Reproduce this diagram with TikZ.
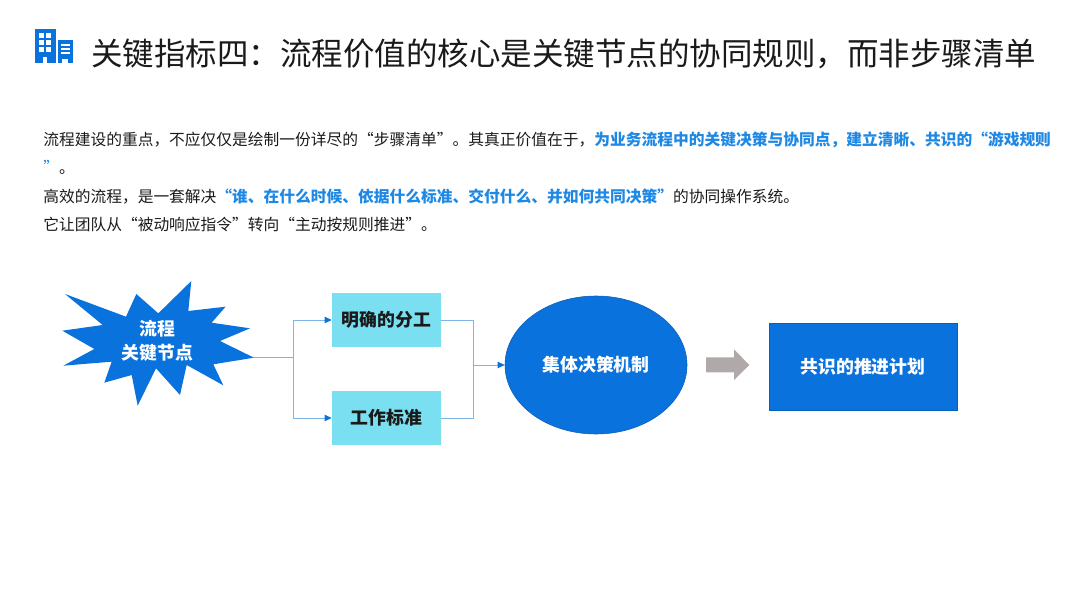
\documentclass[tikz,border=0pt]{standalone}
\usepackage{fontspec}
\setmainfont{Noto Sans CJK SC}
\usetikzlibrary{arrows.meta,positioning,calc,shapes.geometric}
\definecolor{Brand}{HTML}{0A72DC}
\definecolor{BrandEdge}{HTML}{0A5FB8}
\definecolor{Sky}{HTML}{7ADFF0}
\definecolor{Accent}{HTML}{1E88E5}
\definecolor{Wire}{HTML}{7FB5E6}
\definecolor{Ink}{HTML}{1A1A1A}
\definecolor{Stone}{HTML}{AFA9A9}
\tikzset{
  titletext/.style={anchor=west,inner sep=0pt,text=Ink,font=\fontsize{22.4}{27}\selectfont},
  bodytext/.style={anchor=west,inner sep=0pt,text=Ink,font=\fontsize{11.2}{14}\selectfont},
  boxlabel/.style={font=\fontsize{12.7}{17}\selectfont\bfseries},
  skybox/.style={fill=Sky,minimum width=2.725cm,minimum height=1.35cm,inner sep=0pt,text=Ink,boxlabel},
  link/.style={draw=Wire,line width=0.7pt},
  linkarrow/.style={link,-{Triangle[length=5pt,width=4.5pt,fill=Brand,color=Brand]}}
}
\begin{document}
\begin{tikzpicture}[x=1cm,y=1cm]
  \useasboundingbox (0,0) rectangle (27,15.175);
  % icon
  \fill[Brand] (0.875,13.6) rectangle (1.39,14.44);
  \fill[Brand] (1.44,13.6) rectangle (1.82,14.175);
  \foreach \col in {0.975,1.15} \foreach \row in {14.35,14.175,14.0}
    \fill[white] (\col,\row) rectangle ++(0.125,-0.115);
  \fill[white] (1.07,13.6) rectangle (1.18,13.76);
  \foreach \row in {14.07,13.97,13.87}
    \fill[white] (1.52,\row) rectangle ++(0.23,-0.045);
  \fill[white] (1.56,13.6) rectangle (1.69,13.71);
  % title
  \node[titletext] (title) at (2.28,13.83) {关键指标四：流程价值的核心是关键节点的协同规则，而非步骤清单};
  % text
  \node[bodytext] (lineA) at (1.075,11.675) {流程建设的重点，不应仅仅是绘制一份详尽的“步骤清单”。其真正价值在于，\textcolor{Accent}{\bfseries 为业务流程中的关键决策与协同点，建立清晰、共识的“游戏规则}};
  \node[bodytext] (lineB) at (1.075,10.98) {\textcolor{Accent}{”}。};
  \node[bodytext] (lineC) at (1.075,10.25) {高效的流程，是一套解决\textcolor{Accent}{\bfseries “谁、在什么时候、依据什么标准、交付什么、并如何共同决策”}的协同操作系统。};
  \node[bodytext] (lineD) at (1.075,9.55) {它让团队从“被动响应指令”转向“主动按规则推进”。};
  % star
  \fill[Brand] (4.783,8.15) -- (4.708,7.4) -- (5.642,7.508) -- (5.292,7.108) -- (6.25,6.967)
    -- (5.5,6.65) -- (6.35,6.233) -- (5.333,6.067) -- (5.583,5.542) -- (4.667,6.05)
    -- (4.5,5.3) -- (3.9,5.967) -- (3.442,5.033) -- (3.292,5.8) -- (2.608,5.608)
    -- (2.792,6.133) -- (1.583,6.033) -- (2.358,6.45) -- (1.558,6.908) -- (2.567,7.05)
    -- (1.625,7.825) -- (3.15,7.258) -- (3.408,7.825) -- (3.958,7.342) -- cycle;
  \node[boxlabel,text=white,align=center] (keynode) at (3.93,6.665) {流程\\关键节点};
  \coordinate (startip) at (6.35,6.233);
  % boxes
  \node[skybox] (division) at (9.6625,7.175) {明确的分工};
  \node[skybox] (standard) at (9.6625,4.725) {工作标准};
  \node[ellipse,fill=Brand,draw=BrandEdge,line width=0.4pt,minimum width=4.55cm,minimum height=3.45cm,inner sep=0pt,text=white,boxlabel] (decision) at (14.9,6.05) {集体决策机制};
  \node[rectangle,fill=Brand,draw=BrandEdge,line width=0.6pt,minimum width=4.7cm,minimum height=2.175cm,inner sep=0pt,text=white,boxlabel] (plan) at (21.575,6.0125) {共识的推进计划};
  % connectors
  \coordinate (hubL) at (7.325,6.233);
  \coordinate (hubR) at (11.825,6.05);
  \draw[link] (startip) -- (hubL);
  \draw[linkarrow] (hubL) |- (division.west);
  \draw[linkarrow] (hubL) |- (standard.west);
  \draw[link] (division.east) -| (hubR);
  \draw[link] (standard.east) -| (hubR);
  \draw[linkarrow] (hubR) -- (decision.west);
  % big arrow
  \fill[Stone] (17.65,6.242) -- (18.35,6.242) -- (18.35,6.442) -- (18.733,6.05) -- (18.35,5.675)
    -- (18.35,5.867) -- (17.65,5.867) -- cycle;
\end{tikzpicture}
\end{document}
